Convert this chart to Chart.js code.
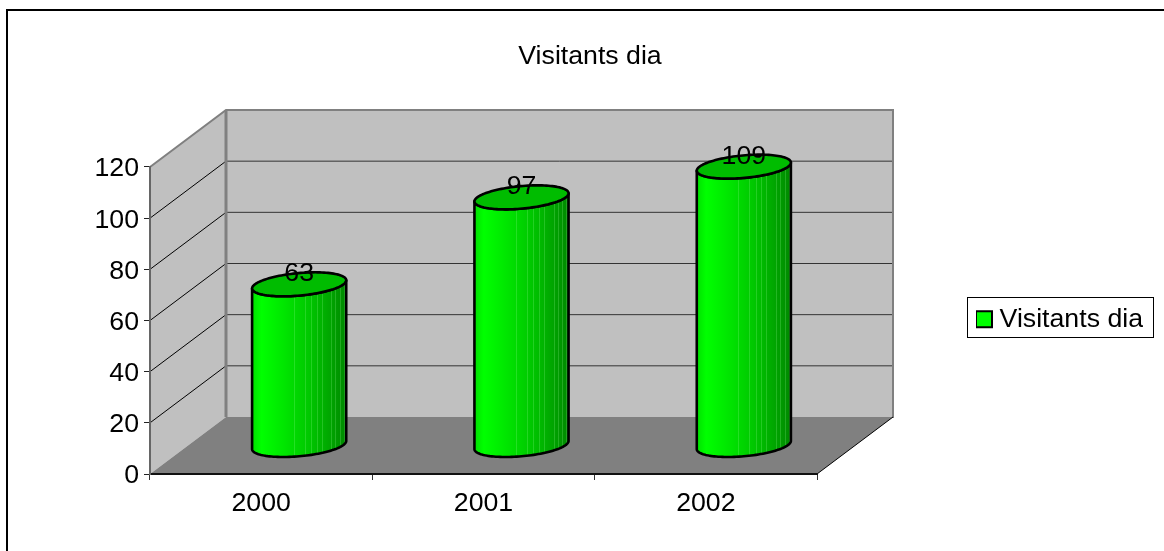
<!DOCTYPE html>
<html>
<head>
<meta charset="utf-8">
<script src="https://cdn.jsdelivr.net/npm/chart.js@4"></script>
<style>
html,body{margin:0;padding:0;background:#fff;overflow:hidden}
canvas{display:block}
</style>
</head>
<body>
<canvas id="c" width="1164" height="551"></canvas>
<script>
const categories = ["2000", "2001", "2002"];
const seriesName = "Visitants dia";
const seriesValues = [63, 97, 109];

const FONT = "'Liberation Sans', Arial, sans-serif";
const FS = 26.7;
const depth = {x: 76, y: 57};
const facetLines = [0.44, 0.56, 0.625, 0.685, 0.74, 0.84, 0.885, 0.935, 0.975];

const scene = {
  id: 'scene',
  afterLayout(chart) {
    const t = chart.titleBlock;
    t.left = 16; t.right = 1164; t.width = 1148;
    const l = chart.legend;
    l.left = 976; l.right = 1143; l.top = 306; l.bottom = 333;
    l.width = l.right - l.left; l.height = l.bottom - l.top;
  },
  beforeDraw(chart) {
    const ctx = chart.ctx, xs = chart.scales.x, ys = chart.scales.y;
    const L = xs.left, R = xs.right, T = ys.top, B = ys.bottom;
    const dx = depth.x, dy = depth.y;
    ctx.save();
    // outer frame
    ctx.strokeStyle = '#000'; ctx.lineWidth = 2;
    ctx.beginPath(); ctx.moveTo(7, 551); ctx.lineTo(7, 10); ctx.lineTo(1164, 10); ctx.stroke();
    // walls
    ctx.fillStyle = '#c0c0c0';
    ctx.beginPath();
    ctx.moveTo(L, B); ctx.lineTo(L, T); ctx.lineTo(L + dx, T - dy); ctx.lineTo(R + dx, T - dy);
    ctx.lineTo(R + dx, B - dy); ctx.lineTo(L + dx, B - dy); ctx.closePath(); ctx.fill();
    // floor
    ctx.fillStyle = '#808080';
    ctx.beginPath();
    ctx.moveTo(L, B); ctx.lineTo(L + dx, B - dy); ctx.lineTo(R + dx, B - dy); ctx.lineTo(R, B); ctx.closePath(); ctx.fill();
    // gridlines
    ctx.lineWidth = 1;
    ys.ticks.forEach(tk => {
      if (tk.value <= ys.min || tk.value >= ys.max) return;
      const y = ys.getPixelForValue(tk.value);
      ctx.strokeStyle = '#000';
      ctx.beginPath(); ctx.moveTo(L, y); ctx.lineTo(L + dx, y - dy); ctx.stroke();
      ctx.strokeStyle = '#333';
      ctx.beginPath(); ctx.moveTo(L + dx, y - dy); ctx.lineTo(R + dx, y - dy); ctx.stroke();
    });
    // wall edges
    ctx.strokeStyle = '#808080'; ctx.lineWidth = 2;
    ctx.beginPath();
    ctx.moveTo(L, T); ctx.lineTo(L + dx, T - dy); ctx.lineTo(R + dx, T - dy); ctx.lineTo(R + dx, B - dy + 1);
    ctx.stroke();
    ctx.lineWidth = 3;
    ctx.beginPath(); ctx.moveTo(L + dx, T - dy); ctx.lineTo(L + dx, B - dy); ctx.stroke();
    ctx.strokeStyle = '#000'; ctx.lineWidth = 1;
    ctx.beginPath(); ctx.moveTo(R, B); ctx.lineTo(R + dx, B - dy); ctx.stroke();
    ctx.restore();
  },
  beforeDatasetDraw() { return false; },
  afterDatasetsDraw(chart) {
    const ctx = chart.ctx;
    const meta = chart.getDatasetMeta(0);
    meta.data.forEach((bar, i) => {
      const cx = bar.x + depth.x / 2;
      const top = bar.y - depth.y / 2;
      const base = bar.base - depth.y / 2;
      const r = bar.width / 2;
      const sx = 16, sy = -12;
      const a = Math.sqrt(r * r - sx * sx);
      const t0 = Math.atan2(sx, a);
      const pt = (cy, t) => [cx + a * Math.cos(t) + sx * Math.sin(t), cy + sy * Math.sin(t)];
      const N = 60;
      ctx.save();
      ctx.lineJoin = 'round';
      const body = new Path2D();
      for (let k = 0; k <= N; k++) {
        const p = pt(base, t0 - Math.PI * k / N);
        k ? body.lineTo(p[0], p[1]) : body.moveTo(p[0], p[1]);
      }
      for (let k = 0; k <= N; k++) {
        const p = pt(top, t0 - Math.PI + Math.PI * k / N);
        body.lineTo(p[0], p[1]);
      }
      body.closePath();
      const g = ctx.createLinearGradient(cx - r, 0, cx + r, 0);
      g.addColorStop(0, '#00e000');
      g.addColorStop(0.1, '#00ff00');
      g.addColorStop(0.3, '#00ea00');
      g.addColorStop(0.6, '#00c800');
      g.addColorStop(0.85, '#00a200');
      g.addColorStop(1, '#008800');
      ctx.fillStyle = g;
      ctx.fill(body);
      ctx.save();
      ctx.clip(body);
      ctx.strokeStyle = 'rgba(160,255,160,0.22)';
      ctx.lineWidth = 1;
      facetLines.forEach(f => {
        const x = Math.round(cx - r + f * bar.width) + 0.5;
        ctx.beginPath(); ctx.moveTo(x, top - 20); ctx.lineTo(x, base + 20); ctx.stroke();
      });
      ctx.restore();
      ctx.strokeStyle = '#000'; ctx.lineWidth = 2.6;
      ctx.stroke(body);
      // top cap
      ctx.beginPath();
      for (let k = 0; k <= 2 * N; k++) {
        const p = pt(top, Math.PI * k / N);
        k ? ctx.lineTo(p[0], p[1]) : ctx.moveTo(p[0], p[1]);
      }
      ctx.closePath();
      ctx.fillStyle = '#00bc00';
      ctx.fill();
      ctx.stroke();
      // value label
      ctx.fillStyle = '#000';
      ctx.font = FS + 'px ' + FONT;
      ctx.textAlign = 'center';
      ctx.textBaseline = 'middle';
      ctx.fillText(String(seriesValues[i]), cx, top - 10.5);
      ctx.restore();
    });
  },
  afterDraw(chart) {
    const ctx = chart.ctx;
    ctx.save();
    ctx.strokeStyle = '#000'; ctx.lineWidth = 1;
    ctx.strokeRect(967.5, 297.5, 186, 40);
    ctx.restore();
  }
};

new Chart(document.getElementById('c'), {
  type: 'bar',
  data: {
    labels: categories,
    datasets: [{
      label: seriesName,
      data: seriesValues,
      backgroundColor: '#00ff00',
      borderColor: '#000',
      borderWidth: 2,
      categoryPercentage: 1,
      barPercentage: 0.4234
    }]
  },
  options: {
    responsive: false,
    animation: false,
    events: [],
    layout: {padding: {left: 16, right: 347, top: 0, bottom: 0}},
    plugins: {
      tooltip: {enabled: false},
      title: {
        display: true,
        text: seriesName,
        color: '#000',
        font: {family: FONT, size: FS, weight: 'normal'},
        padding: {top: 40.5, bottom: 94.46}
      },
      legend: {
        display: true,
        position: 'chartArea',
        align: 'start',
        labels: {
          boxWidth: 16,
          boxHeight: 16,
          padding: 0,
          textAlign: 'right',
          color: '#000',
          font: {family: FONT, size: FS}
        }
      }
    },
    scales: {
      x: {
        offset: true,
        afterFit(s) { s.height = 77; },
        border: {display: true, color: '#111', width: 2},
        grid: {offset: true, drawOnChartArea: false, drawTicks: true, tickLength: 6, tickColor: '#333', tickWidth: 1},
        ticks: {color: '#000', padding: 8, maxRotation: 0, font: {family: FONT, size: FS}}
      },
      y: {
        min: 0, max: 120,
        afterFit(s) { s.width = 134; },
        border: {display: true, color: '#666', width: 2},
        grid: {drawOnChartArea: false, drawTicks: true, tickLength: 6, tickColor: '#222', tickWidth: 1},
        ticks: {stepSize: 20, color: '#000', padding: 5, labelOffset: 2, font: {family: FONT, size: FS}}
      }
    }
  },
  plugins: [scene]
});
</script>
</body>
</html>
